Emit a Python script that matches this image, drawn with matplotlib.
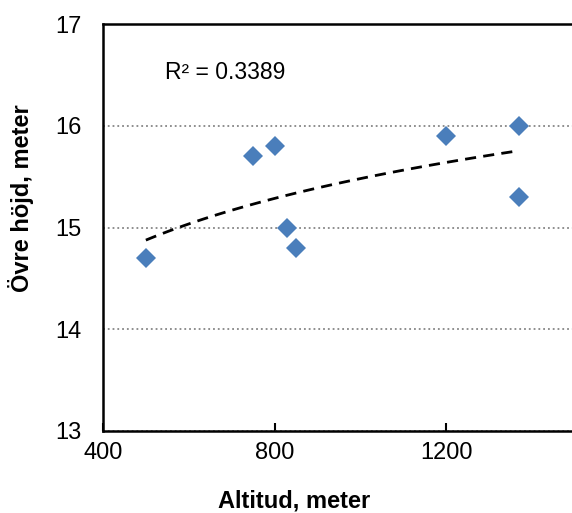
import numpy as np
import matplotlib.pyplot as plt

plt.rcParams['font.family'] = ['Liberation Sans', 'DejaVu Sans']

altitud = [500, 750, 800, 830, 850, 1200, 1370, 1370]
hojd = [14.7, 15.7, 15.8, 15.0, 14.8, 15.9, 16.0, 15.3]
r2_text = 'R² = 0.3389'

fig = plt.figure(figsize=(5.72, 5.13), dpi=100)
ax = fig.add_axes([0.180, 0.160, 0.825, 0.793])

# logarithmic trend line
x = np.array(altitud, dtype=float)
a, b = np.polyfit(np.log(x), hojd, 1)
xx = np.linspace(x.min(), x.max(), 100)
ax.plot(xx, a * np.log(xx) + b, color='black', lw=2, dashes=(4, 2.6), zorder=2)

ax.plot(altitud, hojd, 'D', color='#4A7EBB', markersize=10.5, markeredgewidth=0, zorder=3)

ax.set_xlim(400, 1500)
ax.set_ylim(13, 17)
ax.set_xticks([400, 800, 1200])
ax.set_yticks([13, 14, 15, 16, 17])
ax.yaxis.grid(True, linestyle=':', color='#868686', lw=1.3)
ax.set_axisbelow(True)
ax.tick_params(axis='both', direction='in', length=6, width=1.5, labelsize=17, pad=8)
ax.tick_params(axis='y', length=0, pad=15.5)
for s in ['left', 'bottom', 'top']:
    ax.spines[s].set_linewidth(1.8)
ax.spines['right'].set_visible(False)

ax.text(545, 16.52, r2_text, fontsize=16.5, va='center', ha='left')
ax.set_xlabel('Altitud, meter', fontsize=17, fontweight='bold')
ax.xaxis.set_label_coords(0.405, -0.143)
ax.set_ylabel('Övre höjd, meter', fontsize=17, fontweight='bold')
ax.yaxis.set_label_coords(-0.147, 0.572)

fig.savefig('out.png', dpi=100)
